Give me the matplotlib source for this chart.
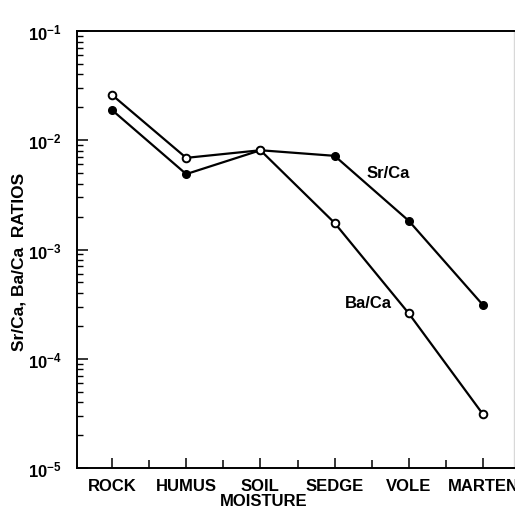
import math
import matplotlib
matplotlib.use("Agg")
import matplotlib.pyplot as plt
from matplotlib.ticker import LogLocator, FixedLocator, NullFormatter, FuncFormatter

# Food-chain stages and measured ratios
stages = ["ROCK", "HUMUS", "SOIL", "SEDGE", "VOLE", "MARTEN"]
sr_ca = [0.0189, 0.0049, 0.0081, 0.0072, 0.00183, 0.00031]
ba_ca = [0.026, 0.0069, 0.0081, 0.00175, 0.00026, 0.000031]

FONT = ["Liberation Sans Narrow", "Liberation Sans", "DejaVu Sans"]
plt.rcParams["font.family"] = FONT
plt.rcParams["font.weight"] = "bold"
plt.rcParams["mathtext.default"] = "regular"

fig = plt.figure(figsize=(5.15, 5.10), dpi=100)
ax = fig.add_axes([77 / 515, 41 / 510, 437 / 515, 437 / 510])

x = list(range(len(stages)))
ax.plot(x, sr_ca, color="black", lw=1.6, marker="o", ms=5.5,
        mfc="black", mec="black", zorder=3)
ax.plot(x, ba_ca, color="black", lw=1.6, marker="o", ms=5.5,
        mfc="white", mec="black", mew=1.4, zorder=3)

ax.set_yscale("log")
ax.set_ylim(1e-5, 1e-1)
ax.set_xlim(-0.472, 5.418)

# x ticks at each stage plus midpoints
ax.set_xticks(x)
ax.set_xticklabels(stages, fontsize=12, fontweight="bold")
ax.xaxis.set_minor_locator(FixedLocator([i + 0.5 for i in range(-1, 6)]))
ax.tick_params(axis="x", which="major", direction="in", length=7, width=1.1,
               pad=7, top=False)
ax.tick_params(axis="x", which="minor", direction="in", length=6, width=1.1,
               top=False)

# log y ticks
ax.yaxis.set_major_locator(LogLocator(base=10, numticks=10))
ax.yaxis.set_minor_locator(LogLocator(base=10, subs=range(2, 10), numticks=20))
ax.yaxis.set_minor_formatter(NullFormatter())
ax.yaxis.set_major_formatter(FuncFormatter(
    lambda v, p: r"$10^{%d}$" % round(math.log10(v))))
ax.tick_params(axis="y", which="major", direction="in", length=8, width=1.1,
               pad=11, labelsize=12, right=False)
ax.tick_params(axis="y", which="minor", direction="in", length=4, width=1.0,
               right=False)
for lab in ax.get_yticklabels():
    lab.set_fontweight("bold")

for side in ("left", "bottom", "top"):
    ax.spines[side].set_linewidth(1.4)
ax.spines["right"].set_color("#d8d8d8")
ax.spines["right"].set_linewidth(1.0)

ax.text(3.72, 5.1e-3, "Sr/Ca", fontsize=12, fontweight="bold",
        ha="center", va="center")
ax.text(3.45, 3.3e-4, "Ba/Ca", fontsize=12, fontweight="bold",
        ha="center", va="center")

ax.set_xlabel("MOISTURE", fontsize=12, fontweight="bold")
ax.xaxis.set_label_coords(0.428, -0.0755)
ax.xaxis.label.set_va("center")

fig.text(19 / 515, 1 - 262 / 510, "Sr/Ca, Ba/Ca  RATIOS", rotation=90,
         fontsize=12.5, fontweight="bold", ha="center", va="center")

fig.savefig("out.png", dpi=100)
